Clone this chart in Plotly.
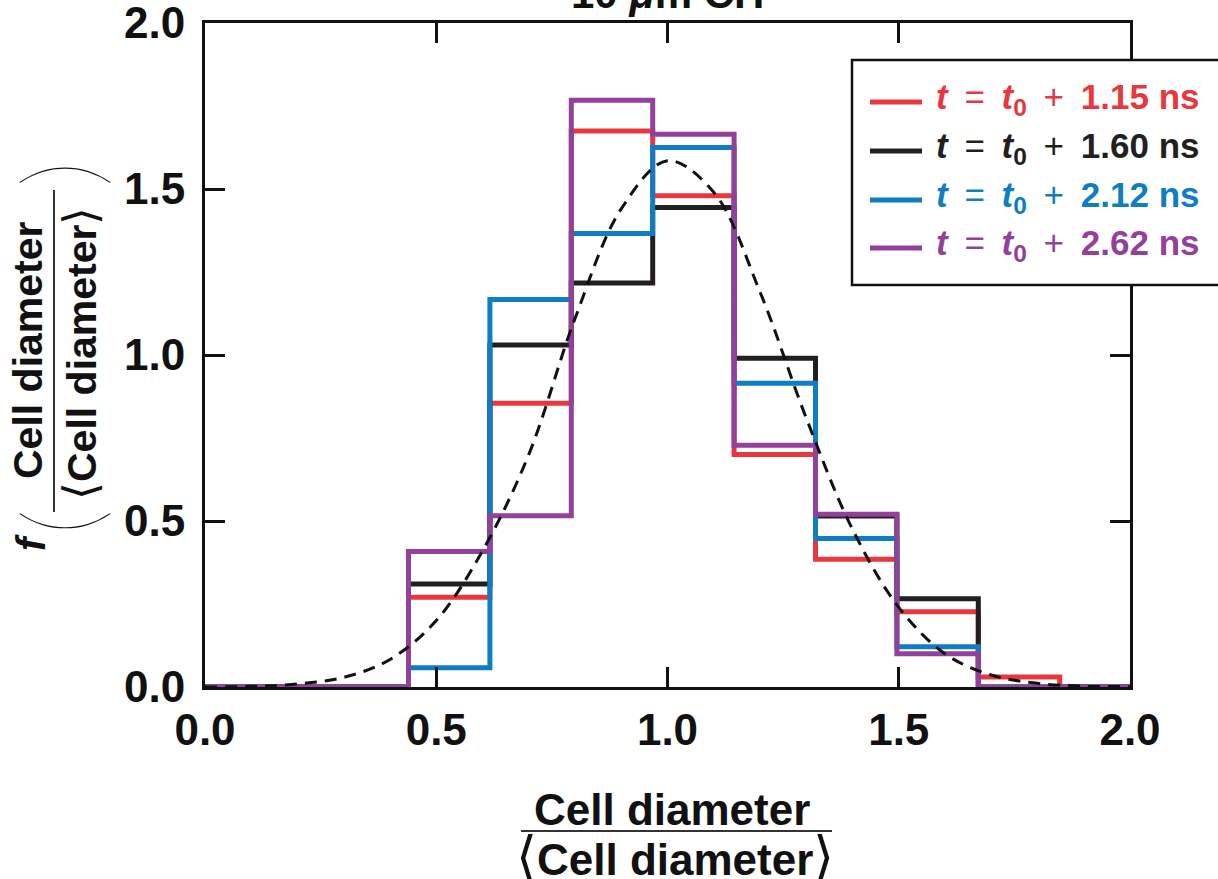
import plotly.graph_objects as go

# ---- data -------------------------------------------------------------
bin_edges = [0.44, 0.616, 0.792, 0.968, 1.144, 1.32, 1.496, 1.672, 1.848]

f_115 = [0.27, 0.855, 1.675, 1.48, 0.70, 0.385, 0.227, 0.03]
f_160 = [0.31, 1.03, 1.217, 1.444, 0.99, 0.515, 0.266, 0.0]
f_212 = [0.058, 1.167, 1.366, 1.625, 0.915, 0.447, 0.121, 0.0]
f_262 = [0.408, 0.516, 1.767, 1.665, 0.728, 0.52, 0.10, 0.0]

labels = ["1.15", "1.60", "2.12", "2.62"]
colors = ["#e8383d", "#231f20", "#0f7dc2", "#93409a"]

# reference curve (dashed)
ref_x = [0.0, 0.1, 0.2, 0.3, 0.4, 0.5, 0.6, 0.7, 0.8, 0.9, 1.0,
         1.1, 1.2, 1.3, 1.4, 1.5, 1.6, 1.7, 1.8, 1.9, 2.0]
ref_y = [0.0, 0.002, 0.009, 0.029, 0.083, 0.20, 0.41, 0.70, 1.11, 1.44, 1.585,
         1.49, 1.19, 0.81, 0.475, 0.24, 0.10, 0.036, 0.011, 0.003, 0.001]

x_ticks = [0.0, 0.5, 1.0, 1.5, 2.0]
y_ticks = [0.0, 0.5, 1.0, 1.5, 2.0]

# ---- geometry -----------------------------------------------------------
W, H = 1218, 879
ML, MR, MT, MB = 205, 88, 23, 192
PW, PH = W - ML - MR, H - MT - MB


def px(x):
    return (x - ML) / PW


def py(y):
    return (H - MB - y) / PH


INK = "#111111"
TICK_FONT = dict(family="Liberation Sans, Arial", size=44, color=INK,
                 weight="bold")

fig = go.Figure()

series = [f_115, f_160, f_212, f_262]
for vals, col, lab in zip(series, colors, labels):
    xs = [0.0] + bin_edges + [2.0]
    ys = [0.0] + vals + [0.0, 0.0]
    fig.add_trace(go.Scatter(
        x=xs, y=ys, mode="lines", line=dict(shape="hv", color=col, width=5),
        name=lab, showlegend=False, hoverinfo="skip"))

fig.add_trace(go.Scatter(
    x=ref_x, y=ref_y, mode="lines",
    line=dict(shape="spline", color=INK, width=3, dash="12px,8px"),
    showlegend=False, hoverinfo="skip"))

axis_common = dict(
    showgrid=False, zeroline=False, showline=True, linecolor=INK,
    linewidth=3, mirror="ticks", ticks="inside", ticklen=20, tickwidth=2.5,
    tickcolor=INK, tickfont=TICK_FONT, tickformat=".1f",
    ticklabeloverflow="allow",
)

fig.update_xaxes(range=[0, 2], tickvals=x_ticks, ticklabelstandoff=2,
                 **axis_common)
fig.update_yaxes(range=[0, 2], tickvals=y_ticks, ticklabelstandoff=8,
                 **axis_common)

shapes = []
annotations = []

# panel heading, mostly above the page edge
annotations.append(dict(
    x=0.5, y=py(-6), xref="paper", yref="paper", text="10 <i>μ</i>m CH",
    showarrow=False, xanchor="center", yanchor="middle",
    font=dict(family="Liberation Sans, Arial", size=42, color=INK,
              weight="bold")))

# x-axis title as a fraction
XT_FONT = dict(family="Liberation Sans, Arial", size=44, color=INK,
               weight="bold")
BR = "<span style='font-weight:200;font-size:54px'>{}</span>"
annotations.append(dict(
    x=px(672), y=py(809), xref="paper", yref="paper", text="Cell diameter",
    showarrow=False, xanchor="center", yanchor="middle", font=XT_FONT))
annotations.append(dict(
    x=px(675), y=py(856), xref="paper", yref="paper",
    text=BR.format("⟨") + "Cell diameter" + BR.format("⟩"),
    showarrow=False, xanchor="center", yanchor="middle", font=XT_FONT))
shapes.append(dict(type="line", xref="paper", yref="paper",
                   x0=px(521), x1=px(832), y0=py(831), y1=py(831),
                   line=dict(color="#333333", width=2)))

# y-axis title f( Cell diameter / <Cell diameter> )
YT_FONT = dict(family="Liberation Sans, Arial", size=41, color=INK,
               weight="bold")
BRY = "<span style='font-weight:200;font-size:46px'>{}</span>"
annotations.append(dict(
    x=px(28), y=py(350), xref="paper", yref="paper", text="Cell diameter",
    textangle=-90, showarrow=False, xanchor="center", yanchor="middle",
    font=YT_FONT))
annotations.append(dict(
    x=px(80), y=py(353), xref="paper", yref="paper",
    text=BRY.format("⟨") + "Cell diameter" + BRY.format("⟩"),
    textangle=-90, showarrow=False, xanchor="center", yanchor="middle",
    font=YT_FONT))
shapes.append(dict(type="line", xref="paper", yref="paper",
                   x0=px(54), x1=px(54), y0=py(190), y1=py(512),
                   line=dict(color="#333333", width=2)))
PAREN_FONT = dict(family="Lato, DejaVu Sans, Liberation Sans", size=104,
                  color=INK, weight=100)
annotations.append(dict(
    x=px(57), y=py(522), xref="paper", yref="paper", text="(",
    textangle=-90, showarrow=False, xanchor="center", yanchor="middle",
    font=PAREN_FONT))
annotations.append(dict(
    x=px(57), y=py(174), xref="paper", yref="paper", text=")",
    textangle=-90, showarrow=False, xanchor="center", yanchor="middle",
    font=PAREN_FONT))
annotations.append(dict(
    x=px(31), y=py(543), xref="paper", yref="paper", text="<i>f</i>",
    textangle=-90, showarrow=False, xanchor="center", yanchor="middle",
    font=dict(family="Liberation Sans, Arial", size=40, color=INK,
              weight="bold")))

# legend box with line samples and coloured entries
shapes.append(dict(type="rect", xref="paper", yref="paper",
                   x0=px(852), x1=px(1240), y0=py(60), y1=py(285),
                   line=dict(color=INK, width=2.5),
                   fillcolor="white", layer="above"))
rows = [99, 148, 197, 245]
SP = " \u2009"
OP = "<span style='font-weight:normal'>{}</span>"
for lab, col, yr in zip(labels, colors, rows):
    shapes.append(dict(type="line", xref="paper", yref="paper",
                       x0=px(870), x1=px(922), y0=py(yr + 3), y1=py(yr + 3),
                       line=dict(color=col, width=5), layer="above"))
    text = ("<i>t</i>" + SP + OP.format("=") + SP + "<i>t</i><sub>0</sub>"
            + SP + OP.format("+") + SP + lab + " " + "ns")
    annotations.append(dict(
        x=px(934), y=py(yr), xref="paper", yref="paper", text=text,
        showarrow=False, xanchor="left", yanchor="middle",
        font=dict(family="Liberation Sans, Arial", size=35, color=col,
                  weight="bold")))

fig.update_layout(
    width=W, height=H,
    margin=dict(l=ML, r=MR, t=MT, b=MB, autoexpand=False),
    paper_bgcolor="white", plot_bgcolor="white",
    showlegend=False, shapes=shapes, annotations=annotations,
)

fig.write_html("out.html", include_plotlyjs=True)
